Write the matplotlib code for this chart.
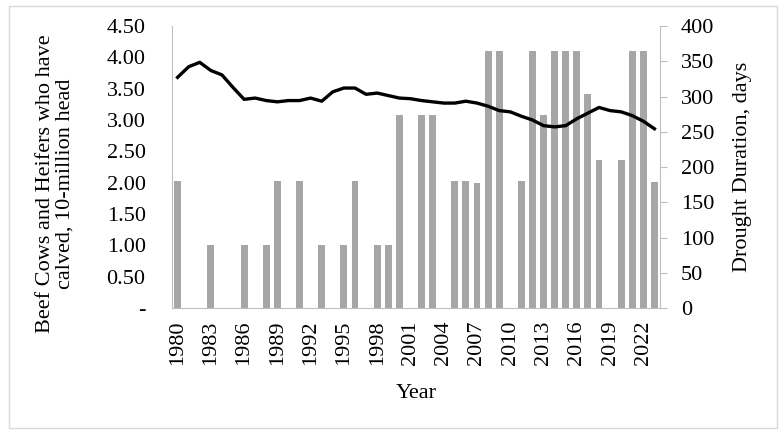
import matplotlib
matplotlib.use('Agg')
import numpy as np
import matplotlib.pyplot as plt
from matplotlib.patches import Rectangle

plt.rcParams['font.family'] = ['Liberation Serif', 'DejaVu Serif']

# ── Data ──────────────────────────────────────────────────────
years = list(range(1980, 2024))
cows = [3.68, 3.85, 3.92, 3.79, 3.72, 3.52, 3.33, 3.35, 3.31, 3.29,
        3.31, 3.31, 3.35, 3.30, 3.45, 3.51, 3.51, 3.41, 3.43, 3.39,
        3.35, 3.34, 3.31, 3.29, 3.27, 3.27, 3.30, 3.27, 3.22, 3.15,
        3.13, 3.06, 3.00, 2.91, 2.89, 2.91, 3.02, 3.11, 3.20, 3.15,
        3.13, 3.07, 2.98, 2.86]
drought = [180, 0, 0, 90, 0, 0, 90, 0, 90, 180,
           0, 180, 0, 90, 0, 90, 180, 0, 90, 90,
           274, 0, 274, 274, 0, 180, 180, 178, 365, 365,
           0, 180, 365, 274, 365, 365, 365, 304, 210, 0,
           210, 365, 365, 179]
left_ticks = [0, 0.5, 1.0, 1.5, 2.0, 2.5, 3.0, 3.5, 4.0, 4.5]
left_labels = ['-', '0.50', '1.00', '1.50', '2.00', '2.50', '3.00', '3.50', '4.00', '4.50']
right_ticks = [0, 50, 100, 150, 200, 250, 300, 350, 400]

GRID = '#BFBFBF'
BAR = '#A6A6A6'
FS = 16

fig = plt.figure(figsize=(7.8, 4.36), dpi=100, facecolor='white')
fig.subplots_adjust(left=172/780, right=660/780, top=1-26/436, bottom=1-308/436)
ax = fig.add_subplot(111)
ax2 = ax.twinx()

x = np.arange(len(years))

# bars on right axis, line on left axis (drawn on top)
ax2.bar(x, drought, width=0.62, color=BAR, zorder=1)
ax.plot(x, cows, color='black', lw=2.4, zorder=3)
ax.set_zorder(ax2.get_zorder() + 1)
ax.patch.set_visible(False)

ax.set_xlim(-0.5, len(years) - 0.5)
ax.set_ylim(0, 4.5)
ax2.set_ylim(0, 400)

ax.set_xticks(x[::3])
ax.set_xticklabels([str(y) for y in years[::3]], rotation=90, fontsize=FS)
ax.set_yticks(left_ticks)
ax.set_yticklabels(left_labels, fontsize=FS)
ax2.set_yticks(right_ticks)
ax2.set_yticklabels([str(v) for v in right_ticks], fontsize=FS)

ax.tick_params(axis='x', length=0, pad=9)
ax.tick_params(axis='y', length=0, pad=19)
ax2.tick_params(axis='y', length=5, width=0.8, color=GRID, pad=10)

for a in (ax, ax2):
    a.spines['top'].set_visible(False)
    for s in ('left', 'right', 'bottom'):
        a.spines[s].set_color(GRID)
        a.spines[s].set_linewidth(0.8)
ax.spines['right'].set_visible(False)
ax2.spines['left'].set_visible(False)
ax2.spines['bottom'].set_visible(False)

ax.set_xlabel('Year', fontsize=FS, labelpad=14)
ax.set_ylabel('Beef Cows and Heifers who have\ncalved, 10-million head', fontsize=FS,
              multialignment='center', linespacing=1.0)
ax.yaxis.set_label_coords(-0.20, 0.44)
ax2.set_ylabel('Drought Duration, days', fontsize=FS)
ax2.yaxis.set_label_coords(1.15, 0.5)

# outer border
fig.patches.append(Rectangle((9/780, 8/436), (777-9)/780, (431-9)/436,
                             transform=fig.transFigure, fill=False,
                             edgecolor='#D9D9D9', lw=1.0))

fig.savefig('out.png', dpi=100, facecolor='white')
